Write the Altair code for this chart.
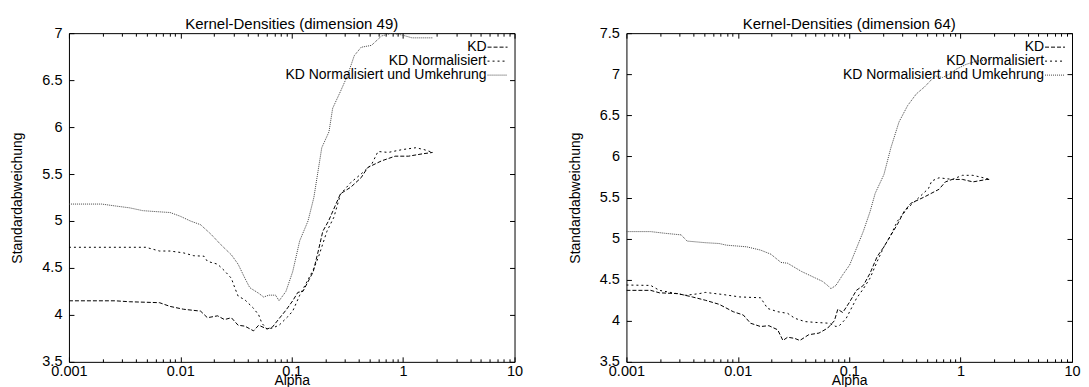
import altair as alt
import pandas as pd

series_names = ["KD", "KD Normalisiert", "KD Normalisiert und Umkehrung"]

# ---- dimension 49 ----
kd49_x = [0.001, 0.0026, 0.0035, 0.0065, 0.0081, 0.0107, 0.0152, 0.0175, 0.0216, 0.0249, 0.0287, 0.033, 0.038,
          0.0454, 0.0505, 0.06, 0.067, 0.077, 0.0887, 0.102, 0.1135, 0.126, 0.156, 0.173, 0.19, 0.214, 0.274,
          0.339, 0.419, 0.482, 0.64, 0.847, 1.12, 1.49, 1.84]
kd49_y = [4.15, 4.15, 4.14, 4.13, 4.09, 4.06, 4.04, 3.97, 3.99, 3.95, 3.97, 3.89, 3.88,
          3.83, 3.89, 3.85, 3.87, 3.96, 4.05, 4.15, 4.24, 4.25, 4.46, 4.68, 4.89, 5.0, 5.29,
          5.36, 5.46, 5.57, 5.64, 5.69, 5.69, 5.715, 5.73]

norm49_x = [0.001, 0.0049, 0.0065, 0.0081, 0.0107, 0.0132, 0.0163, 0.0175, 0.0216, 0.0249, 0.0287, 0.0308,
            0.033, 0.038, 0.0454, 0.0505, 0.054, 0.06, 0.067, 0.077, 0.092, 0.102, 0.118, 0.135, 0.156,
            0.173, 0.207, 0.239, 0.274, 0.339, 0.419, 0.52, 0.595, 0.735, 0.98, 1.3, 1.54, 1.84]
norm49_y = [4.72, 4.72, 4.68, 4.68, 4.66, 4.63, 4.625, 4.57, 4.54, 4.47, 4.39, 4.29,
            4.2, 4.16, 4.07, 4.0, 3.91, 3.85, 3.86, 3.89, 3.98, 4.04, 4.21, 4.34, 4.48,
            4.61, 4.89, 5.04, 5.285, 5.41, 5.5, 5.6, 5.74, 5.73, 5.76, 5.78, 5.76, 5.73]

umk49_x = [0.001, 0.00197, 0.0026, 0.0035, 0.0046, 0.006, 0.0081, 0.01, 0.0123, 0.0152, 0.0188, 0.023,
           0.0287, 0.033, 0.038, 0.042, 0.0505, 0.056, 0.0623, 0.0716, 0.077, 0.0887, 0.102, 0.118, 0.14,
           0.158, 0.186, 0.216, 0.233, 0.274, 0.317, 0.364, 0.42, 0.52, 0.64, 0.79, 0.98, 1.2, 1.84]
umk49_y = [5.18, 5.18, 5.16, 5.14, 5.11, 5.1, 5.09, 5.05, 5.0, 4.96, 4.86, 4.75,
           4.64, 4.54, 4.39, 4.29, 4.23, 4.19, 4.21, 4.21, 4.15, 4.25, 4.46, 4.79, 5.0,
           5.25, 5.78, 5.95, 6.2, 6.38, 6.55, 6.76, 6.85, 6.87, 6.97, 7.0, 6.98, 6.95, 6.95]

# ---- dimension 64 ----
kd64_x = [0.001, 0.00165, 0.00198, 0.0029, 0.0039, 0.0051, 0.0068, 0.0091, 0.0112, 0.013, 0.016, 0.019,
          0.0228, 0.0254, 0.028, 0.0325, 0.036, 0.0433, 0.0535, 0.064, 0.0736, 0.079, 0.0875, 0.101, 0.116,
          0.134, 0.154, 0.178, 0.205, 0.236, 0.27, 0.311, 0.358, 0.415, 0.478, 0.64, 0.73, 0.84, 1.04,
          1.29, 1.72, 1.85]
kd64_y = [4.37, 4.37, 4.34, 4.33, 4.29, 4.25, 4.2, 4.11, 4.07, 3.97, 3.93, 3.94,
          3.89, 3.76, 3.8, 3.785, 3.76, 3.83, 3.85, 3.91, 4.0, 4.14, 4.1, 4.23, 4.37,
          4.43, 4.58, 4.78, 4.9, 5.04, 5.17, 5.33, 5.43, 5.47, 5.51, 5.6, 5.69, 5.72, 5.72,
          5.69, 5.72, 5.72]

norm64_x = [0.001, 0.00165, 0.00198, 0.0034, 0.0045, 0.0051, 0.0073, 0.0104, 0.016, 0.0185, 0.0228, 0.028,
            0.0325, 0.040, 0.0497, 0.066, 0.076, 0.0815, 0.094, 0.116, 0.134, 0.154, 0.178, 0.205, 0.236,
            0.27, 0.335, 0.415, 0.515, 0.55, 0.64, 0.84, 1.04, 1.29, 1.6, 1.85]
norm64_y = [4.435, 4.43, 4.37, 4.31, 4.33, 4.345, 4.32, 4.29, 4.28, 4.15, 4.11, 4.09,
            4.03, 3.99, 3.98, 3.97, 3.93, 3.94, 4.03, 4.27, 4.39, 4.52, 4.72, 4.9, 5.04,
            5.21, 5.37, 5.49, 5.61, 5.7, 5.74, 5.72, 5.77, 5.77, 5.74, 5.72]

umk64_x = [0.001, 0.00165, 0.0022, 0.0031, 0.0035, 0.0051, 0.0068, 0.0079, 0.012, 0.016, 0.0198, 0.0244,
           0.028, 0.0373, 0.0497, 0.0575, 0.064, 0.0685, 0.076, 0.0875, 0.101, 0.116, 0.134, 0.154, 0.171,
           0.205, 0.236, 0.28, 0.335, 0.40, 0.478, 0.59, 0.686, 0.79, 0.91, 1.12, 1.39, 1.85]
umk64_y = [5.085, 5.085, 5.065, 5.045, 4.97, 4.95, 4.94, 4.92, 4.9, 4.86, 4.81, 4.71,
           4.7, 4.6, 4.52, 4.48, 4.43, 4.39, 4.43, 4.56, 4.68, 4.88, 5.09, 5.33, 5.55,
           5.78, 6.1, 6.42, 6.62, 6.76, 6.85, 6.98, 6.96, 7.0, 7.06, 7.12, 7.16, 7.18]

x_major = [0.001, 0.01, 0.1, 1, 10]
x_minor = [m * 10 ** e for e in range(-3, 1) for m in range(2, 10)]
y_ticks_49 = [3.5, 4, 4.5, 5, 5.5, 6, 6.5, 7]
y_ticks_64 = [3.5, 4, 4.5, 5, 5.5, 6, 6.5, 7, 7.5]

FONT = "Liberation Sans"
W, H = 446, 329


def make_df(xs_list, ys_list):
    rows = []
    for name, xs, ys in zip(series_names, xs_list, ys_list):
        for i, (a, b) in enumerate(zip(xs, ys)):
            rows.append({"alpha": a, "sd": b, "series": name, "order": i})
    return pd.DataFrame(rows)


def tick_axis(orient, values, size, offset):
    # inward-pointing ticks: an unlabeled axis shifted into the plot area
    return alt.Axis(orient=orient, values=values, tickSize=size, offset=offset, labels=False,
                    domain=False, grid=False, title=None, ticks=True, tickColor="black", tickWidth=1,
                    minExtent=0, maxExtent=0)


def make_legend():
    # labels right-aligned, line sample drawn to the right of the text (gnuplot key style)
    return alt.Legend(orient="none", legendX=W - 42, legendY=7, title=None, labelAlign="right",
                      labelOffset=0, symbolOffset=0, symbolType="M2,0H7", symbolSize=64,
                      symbolStrokeWidth=1, labelFont=FONT, labelFontSize=14, labelColor="black",
                      labelLimit=400, padding=0, rowPadding=0)


def make_title(text):
    kw = dict(font=FONT, fontSize=15, fontWeight="normal", color="black", anchor="middle",
              baseline="alphabetic")
    try:
        return alt.TitleParams(text, offset=-19, **kw)
    except Exception:
        return alt.TitleParams(text, offset=0, **kw)


def panel(df, title, y_domain, y_ticks):
    xs = alt.Scale(type="log", domain=[0.001, 10], nice=False)
    ys = alt.Scale(domain=y_domain, nice=False, zero=False)
    leg = make_legend()
    color = alt.Color("series:N", scale=alt.Scale(domain=series_names,
                                                  range=["#000000", "#000000", "#444444"]), legend=leg)
    dash = alt.StrokeDash("series:N", scale=alt.Scale(domain=series_names,
                                                      range=[[4, 2], [2, 3], [1, 1]]), legend=leg)
    base = alt.Chart(df)
    lines = base.mark_line(strokeWidth=1, clip=True).encode(
        x=alt.X("alpha:Q", scale=xs, axis=alt.Axis(
            orient="bottom", values=x_major, format="~g", tickSize=0, labelPadding=3,
            labelFlush=False, labelOverlap=False, domain=False, grid=False,
            title="Alpha", titleY=23, titleBaseline="alphabetic")),
        y=alt.Y("sd:Q", scale=ys, axis=alt.Axis(
            orient="left", values=y_ticks, format="~g", tickSize=0, labelPadding=7,
            labelFlush=False, labelOverlap=False, domain=False, grid=False,
            title="Standardabweichung", titleX=-51, titleY=H / 2, titleBaseline="middle",
            titleAlign="center")),
        color=color,
        strokeDash=dash,
        order="order:Q",
    )
    hidden = base.mark_point(opacity=0)
    # bottom inward ticks (major + minor), left inward ticks
    t1 = hidden.encode(x=alt.X("alpha:Q", scale=xs, axis=tick_axis("bottom", x_major, 5, -5)),
                       y=alt.Y("sd:Q", scale=ys, axis=tick_axis("left", y_ticks, 5, -5)))
    # top inward ticks drawn by bottom axes moved to the top edge; right ticks by a left axis moved right
    t2 = hidden.encode(x=alt.X("alpha:Q", scale=xs, axis=tick_axis("bottom", x_minor, 3, -3)),
                       y=alt.Y("sd:Q", scale=ys, axis=tick_axis("left", y_ticks, 5, -W)))
    t3 = hidden.encode(x=alt.X("alpha:Q", scale=xs, axis=tick_axis("bottom", x_major, 5, -H)),
                       y=alt.Y("sd:Q", scale=ys, axis=None))
    t4 = hidden.encode(x=alt.X("alpha:Q", scale=xs, axis=tick_axis("bottom", x_minor, 3, -H)),
                       y=alt.Y("sd:Q", scale=ys, axis=None))
    return alt.layer(lines, t1, t2, t3, t4).resolve_axis(x="independent", y="independent").properties(
        width=W, height=H, title=make_title(title))


df49 = make_df([kd49_x, norm49_x, umk49_x], [kd49_y, norm49_y, umk49_y])
df64 = make_df([kd64_x, norm64_x, umk64_x], [kd64_y, norm64_y, umk64_y])

left = panel(df49, "Kernel-Densities (dimension 49)", [3.5, 7], y_ticks_49)
right = panel(df64, "Kernel-Densities (dimension 64)", [3.5, 7.5], y_ticks_64)

chart = alt.hconcat(left, right, spacing=44).resolve_scale(
    x="independent", y="independent", color="independent", strokeDash="independent"
).resolve_legend(color="independent", strokeDash="independent").configure(
    background="white", padding={"left": 2, "top": 8, "right": 0, "bottom": 0}
).configure_view(
    stroke="black", strokeWidth=1
).configure_axis(
    labelFont=FONT, labelFontSize=14.5, labelColor="black", titleFont=FONT, titleFontSize=14,
    titleFontWeight="normal", titleColor="black"
)

chart.save("out.html", embed_options={"renderer": "svg", "actions": False})
